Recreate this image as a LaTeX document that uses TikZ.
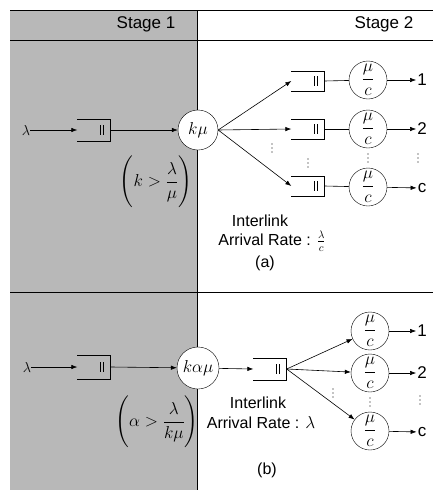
\documentclass[tikz,border=0pt]{standalone}
\usepackage{amsmath}
\usepackage{fontspec}
\setmainfont{Liberation Sans}
\usetikzlibrary{arrows.meta}
\tikzset{
  srv/.style={circle, draw, fill=white, minimum size=40pt, inner sep=0pt, font=\fontsize{16}{18}\selectfont},
  ssrv/.style={circle, draw, fill=white, minimum size=38pt, inner sep=0pt, font=\fontsize{19}{21}\selectfont},
  qbox/.style={minimum width=33pt, minimum height=22pt, inner sep=0pt},
  lbl/.style={font=\fontsize{17}{19}\selectfont, inner sep=1pt},
  txt/.style={font=\fontsize{16}{18}\selectfont, inner sep=0pt},
  arr/.style={-{Latex[length=6pt,width=4.5pt]}, line width=0.6pt},
  ln/.style={line width=0.6pt},
  cond/.style={font=\fontsize{18}{20}\selectfont, inner sep=0pt},
}
\newcommand\myqueue[4]{%
  \node[qbox, minimum height=#4] (#1) at (#2,#3) {};
  \draw[ln] (#1.north west) -- (#1.north east) -- (#1.south east) -- (#1.south west);
  \draw[ln] ([xshift=-10pt,yshift=5pt]#1.east) -- ++(0,-10pt);
  \draw[ln] ([xshift=-7pt,yshift=5pt]#1.east) -- ++(0,-10pt);
}
\newcommand\mydots[2]{%
  \coordinate (#1) at #2;
  \foreach \dd in {-4,0,4} \fill ([yshift=\dd pt]#1) circle (0.7pt);
}
\begin{document}
\begin{tikzpicture}[x=1pt,y=-1pt]
\useasboundingbox (0,0) rectangle (433,493);
% shaded stage 1 column
\fill[black!28] (10,10) rectangle (197,490);
\draw[ln] (197,10) -- (197,490);
\draw[line width=0.8pt] (10,10) -- (433,10);
\draw[line width=0.8pt] (10,40) -- (433,40);
\draw[line width=0.8pt] (10,292) -- (433,292);
\node[txt, font=\fontsize{17}{19}\selectfont] (st1) at (146,24) {Stage 1};
\node[txt, font=\fontsize{17}{19}\selectfont] (st2) at (384,24) {Stage 2};

% ---------------- (a) ----------------
\node[cond, font=\fontsize{15}{17}\selectfont] (lamA) at (26,130) {$\lambda$};
\myqueue{qA}{94}{130}{22pt}
\node[srv] (kmu) at (198,130) {$k\mu$};
\draw[arr] (lamA) -- (qA.west);
\draw[arr] (qA.east) -- (kmu);

\myqueue{qa1}{308}{81}{20pt}
\myqueue{qa2}{308}{129}{20pt}
\myqueue{qa3}{308}{186}{20pt}
\node[ssrv] (sa1) at (368,80) {$\dfrac{\mu}{c}$};
\node[ssrv] (sa2) at (368,129) {$\dfrac{\mu}{c}$};
\node[ssrv] (sa3) at (368,187) {$\dfrac{\mu}{c}$};
\node[lbl] (oa1) at (422,80) {1};
\node[lbl] (oa2) at (422,129) {2};
\node[lbl] (oa3) at (422,188) {c};
\draw[arr] (kmu.east) -- (qa1.west);
\draw[arr] (kmu.east) -- (qa2.west);
\draw[arr] (kmu.east) -- (qa3.west);
\draw[ln] (qa1.east) -- (sa1);
\draw[ln] (qa2.east) -- (sa2);
\draw[ln] (qa3.east) -- (sa3);
\draw[arr] (sa1) -- (oa1);
\draw[arr] (sa2) -- (oa2);
\draw[arr] (sa3) -- (oa3);
\mydots{da1}{(272,148)}
\mydots{da2}{(308,163)}
\mydots{da3}{(368,158)}
\mydots{da4}{(418,158)}
\node[cond] (condA) at (156,182) {$\Biggl(k>\dfrac{\lambda}{\mu}\Biggr)$};
\node[txt] (intA) at (260,221) {Interlink};
\node[txt] (arrA) at (272,241) {Arrival Rate : $\frac{\lambda}{c}$};
\node[txt] (capA) at (265,263) {(a)};

% ---------------- (b) ----------------
\node[cond, font=\fontsize{15}{17}\selectfont] (lamB) at (27,367) {$\lambda$};
\myqueue{qB}{94}{367}{24pt}
\node[srv, minimum size=42pt] (kam) at (198,368) {$k\alpha\mu$};
\draw[arr] (lamB) -- (qB.west);
\draw[arr] (qB.east) -- (kam);
\myqueue{qC}{270}{369}{22pt}
\draw[arr] (kam) -- (qC.west);
\node[ssrv] (sb1) at (370,331) {$\dfrac{\mu}{c}$};
\node[ssrv] (sb2) at (370,373) {$\dfrac{\mu}{c}$};
\node[ssrv] (sb3) at (370,431) {$\dfrac{\mu}{c}$};
\node[lbl] (ob1) at (422,331) {1};
\node[lbl] (ob2) at (422,373) {2};
\node[lbl] (ob3) at (422,432) {c};
\draw[arr] (qC.east) -- (sb1);
\draw[arr] (qC.east) -- (sb2);
\draw[arr] (qC.east) -- (sb3);
\draw[arr] (sb1) -- (ob1);
\draw[arr] (sb2) -- (ob2);
\draw[arr] (sb3) -- (ob3);
\mydots{db1}{(333,393)}
\mydots{db2}{(370,402)}
\mydots{db3}{(420,400)}
\node[cond] (condB) at (157,422) {$\Biggl(\alpha>\dfrac{\lambda}{k\mu}\Biggr)$};
\node[txt] (intB) at (258,403) {Interlink};
\node[txt] (arrB) at (261,423) {Arrival Rate : $\lambda$};
\node[txt] (capB) at (267,470) {(b)};
\end{tikzpicture}
\end{document}
